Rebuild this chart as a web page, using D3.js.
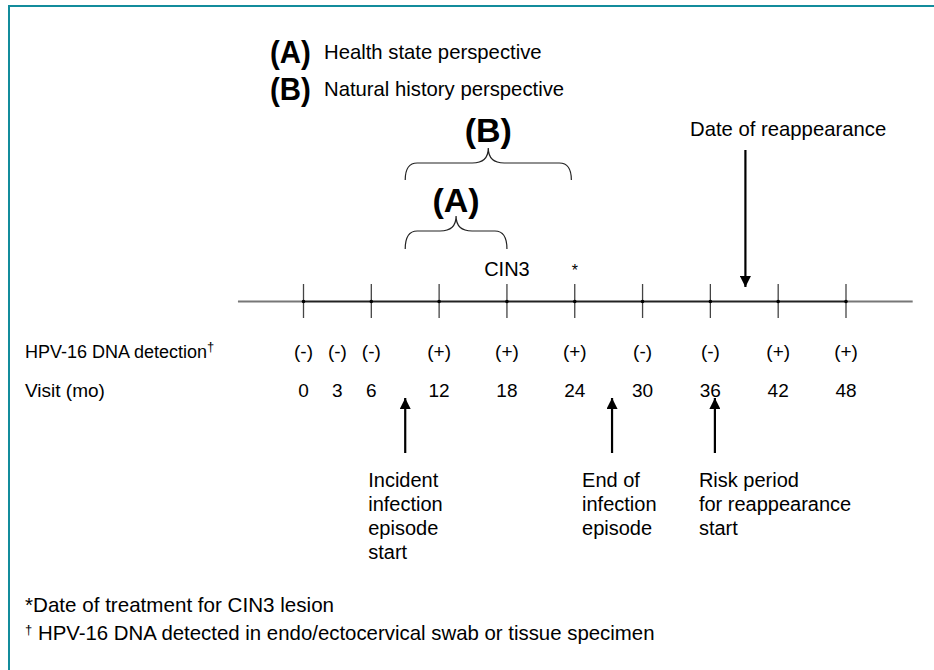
<!DOCTYPE html>
<html><head><meta charset="utf-8">
<script src="https://cdn.jsdelivr.net/npm/d3@7"></script>
<style>body{margin:0;background:#fff}svg{display:block}</style>
</head><body>
<script>
const visitMonths = [0, 3, 6, 12, 18, 24, 30, 36, 42, 48];
const visitLabels = ["0", "3", "6", "12", "18", "24", "30", "36", "42", "48"];
const hpvResults = ["(-)", "(-)", "(-)", "(+)", "(+)", "(+)", "(-)", "(-)", "(+)", "(+)"];
const tickMonths = [0, 6, 12, 18, 24, 30, 36, 42, 48];
const upArrowMonths = [9, 27.3, 36.4];
const upArrowLabels = [["Incident", "infection", "episode", "start"], ["End of", "infection", "episode"], ["Risk period", "for reappearance", "start"]];
const reappearMonth = 39.1;
const braceA = [9, 18];
const braceB = [9, 23.7];
const cinMonth = 18, treatMonth = 24;

const W = 934, H = 670;
const svg = d3.select("body").append("svg").attr("width", W).attr("height", H);
const font = "'Liberation Sans', Arial, sans-serif";

// frame
svg.append("line").attr("x1", 8).attr("x2", W).attr("y1", 6).attr("y2", 6).attr("stroke", "#138c9c").attr("stroke-width", 2);
svg.append("line").attr("x1", 9).attr("x2", 9).attr("y1", 6).attr("y2", H).attr("stroke", "#138c9c").attr("stroke-width", 2);

const x = d3.scaleLinear().domain([0, 48]).range([303.5, 846]);
const axisY = 301.5;

svg.append("defs").append("marker").attr("id", "ah").attr("viewBox", "0 0 10 10")
  .attr("refX", 10).attr("refY", 5).attr("markerWidth", 5).attr("markerHeight", 5).attr("orient", "auto")
  .attr("markerUnits", "strokeWidth")
  .append("path").attr("d", "M0,0L10,5L0,10z").attr("fill", "#000");

// legend header
const hdr = [["(A)", "Health state perspective", 63], ["(B)", "Natural history perspective", 100]];
hdr.forEach(h => {
  svg.append("text").attr("x", 270).attr("y", h[2]).attr("font-family", font).attr("font-weight", "bold").attr("font-size", 31)
    .attr("transform", `translate(270,0) scale(0.95,1) translate(-270,0)`).text(h[0]);
  svg.append("text").attr("x", 324).attr("y", h[2] - 4).attr("font-family", font).attr("font-size", 20.3).text(h[1]);
});

// axis line
svg.append("line").attr("x1", x(-5.8)).attr("x2", x(0)).attr("y1", axisY).attr("y2", axisY).attr("stroke", "#777").attr("stroke-width", 2);
svg.append("line").attr("x1", x(48)).attr("x2", x(53.9)).attr("y1", axisY).attr("y2", axisY).attr("stroke", "#777").attr("stroke-width", 2);
svg.append("line").attr("x1", x(0)).attr("x2", x(48)).attr("y1", axisY).attr("y2", axisY).attr("stroke", "#222").attr("stroke-width", 2);
svg.selectAll(".tk").data(tickMonths).join("line")
  .attr("x1", d => x(d)).attr("x2", d => x(d)).attr("y1", 284).attr("y2", 318)
  .attr("stroke", "#444").attr("stroke-width", 1.3);
svg.selectAll(".dot").data(tickMonths).join("circle")
  .attr("cx", d => x(d)).attr("cy", axisY).attr("r", 1.8).attr("fill", "#000");

// braces
function brace(x0, x1, yb, yt, yp) {
  const xc = (x0 + x1) / 2, r = 8;
  return `M${x0},${yb} Q${x0},${yt} ${x0 + r * 1.5},${yt} L${xc - r * 2},${yt} Q${xc},${yt} ${xc},${yp} Q${xc},${yt} ${xc + r * 2},${yt} L${x1 - r * 1.5},${yt} Q${x1},${yt} ${x1},${yb}`;
}
svg.append("path").attr("d", brace(x(braceB[0]), x(braceB[1]), 180, 163, 148)).attr("fill", "none").attr("stroke", "#222").attr("stroke-width", 1.2);
svg.append("path").attr("d", brace(x(braceA[0]), x(braceA[1]), 249, 231, 216)).attr("fill", "none").attr("stroke", "#222").attr("stroke-width", 1.2);
svg.append("text").attr("x", (x(braceB[0]) + x(braceB[1])) / 2).attr("y", 142).attr("text-anchor", "middle")
  .attr("font-family", font).attr("font-weight", "bold").attr("font-size", 34).text("(B)");
svg.append("text").attr("x", (x(braceA[0]) + x(braceA[1])) / 2).attr("y", 212).attr("text-anchor", "middle")
  .attr("font-family", font).attr("font-weight", "bold").attr("font-size", 34).text("(A)");

// CIN3 and *
svg.append("text").attr("x", x(cinMonth)).attr("y", 276).attr("text-anchor", "middle").attr("font-family", font).attr("font-size", 20).text("CIN3");
svg.append("text").attr("x", x(treatMonth)).attr("y", 276).attr("text-anchor", "middle").attr("font-family", font).attr("font-size", 16).text("*");

// reappearance
svg.append("text").attr("x", 690).attr("y", 136).attr("font-family", font).attr("font-size", 20.3).text("Date of reappearance");
svg.append("line").attr("x1", x(reappearMonth)).attr("x2", x(reappearMonth)).attr("y1", 150).attr("y2", 287)
  .attr("stroke", "#000").attr("stroke-width", 2.2).attr("marker-end", "url(#ah)");

// rows
svg.append("text").attr("x", 25).attr("y", 358).attr("font-family", font).attr("font-size", 18)
  .text("HPV-16 DNA detection").append("tspan").attr("dy", -7).attr("font-size", 13).text("†");
svg.append("text").attr("x", 25).attr("y", 397).attr("font-family", font).attr("font-size", 19).text("Visit (mo)");
svg.selectAll(".hpv").data(visitMonths).join("text")
  .attr("x", d => x(d)).attr("y", 358).attr("text-anchor", "middle").attr("font-family", font).attr("font-size", 19)
  .text((d, i) => hpvResults[i]);
svg.selectAll(".vis").data(visitMonths).join("text")
  .attr("x", d => x(d)).attr("y", 397).attr("text-anchor", "middle").attr("font-family", font).attr("font-size", 19)
  .text((d, i) => visitLabels[i]);

// up arrows
upArrowMonths.forEach((m, i) => {
  svg.append("line").attr("x1", x(m)).attr("x2", x(m)).attr("y1", 453).attr("y2", 398)
    .attr("stroke", "#000").attr("stroke-width", 2.2).attr("marker-end", "url(#ah)");
  const t = svg.append("text").attr("x", x(m) - 36 + (i === 0 ? -1 : i === 1 ? 6 : 20)).attr("y", 487)
    .attr("font-family", font).attr("font-size", 20);
  upArrowLabels[i].forEach((s, j) => t.append("tspan").attr("x", t.attr("x")).attr("dy", j === 0 ? 0 : 24).text(s));
});

// footnotes
svg.append("text").attr("x", 25).attr("y", 612).attr("font-family", font).attr("font-size", 20.6).text("*Date of treatment for CIN3 lesion");
const fn = svg.append("text").attr("x", 25).attr("y", 640).attr("font-family", font).attr("font-size", 20.4);
fn.append("tspan").attr("font-size", 13).attr("dy", -6).text("†");
fn.append("tspan").attr("dy", 6).text(" HPV-16 DNA detected in endo/ectocervical swab or tissue specimen");
</script>
</body></html>
